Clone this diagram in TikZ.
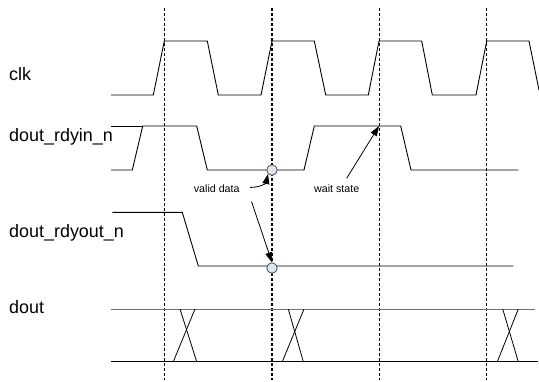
\documentclass[tikz,border=0pt]{standalone}
\usepackage{fontspec}
\setmainfont{Liberation Sans}
\usetikzlibrary{arrows.meta}
\definecolor{dotfill}{HTML}{DFE6F0}
\begin{document}
\begin{tikzpicture}[x=1bp,y=-1bp,
  wave/.style={line width=0.9bp,line join=miter},
  gwave/.style={line width=0.9bp,draw=black!55},
  grid/.style={line width=0.8bp,dash pattern=on 3bp off 2bp},
  siglabel/.style={font=\fontsize{18}{21}\selectfont,anchor=west,inner sep=0pt},
  note/.style={font=\fontsize{10.7}{12}\selectfont,inner sep=0pt},
  dot/.style={circle,draw=black!70,fill=dotfill,line width=0.8bp,minimum size=10.5bp,inner sep=0pt},
  pointer/.style={line width=0.8bp,-{Triangle[length=10bp,width=7bp]}}]
\useasboundingbox (0,0) rectangle (539,381);
% grid lines
\foreach \gx/\gw in {164.3/0.8,272/1.4,379/0.8,486.7/0.8}
  \draw[grid,line width=\gw bp] (\gx,8) -- (\gx,380);
% labels
\node[siglabel] (lclk) at (9,74) {clk};
\node[siglabel] (lin) at (9,137) {dout\_rdyin\_n};
\node[siglabel] (lout) at (9,233) {dout\_rdyout\_n};
\node[siglabel] (ldout) at (9,307) {dout};
% clk
\draw[wave] (111,95) -- (153.3,95) -- (164.3,41) -- (207.3,41) -- (218.3,95)
  -- (261,95) -- (272,41) -- (314.3,41) -- (325.7,95)
  -- (368.3,95) -- (379,41) -- (421.7,41) -- (432.3,95)
  -- (476,95) -- (486.7,41) -- (529,41) -- (539,90);
% dout_rdyin_n
\draw[wave] (111,126) -- (142.7,126);
\draw[wave] (111,170) -- (132.3,170) -- (142.7,126) -- (196.7,126) -- (207.3,170)
  -- (304,170) -- (314.3,126) -- (400.7,126) -- (411,170) -- (518.3,170);
% dout_rdyout_n
\draw[wave] (112.3,212.3) -- (182.3,212.3) -- (198.3,266) -- (513.3,266);
% dout
\draw[gwave] (111,309) -- (535,309);
\draw[wave] (111,361.7) -- (538,361.7);
\foreach \a/\b/\c/\d in {180/196.7/195/173.3, 288.3/303.3/304/282.3, 502.7/518.3/518.3/497.3}{
  \draw[line width=0.8bp] (\a,309) -- (\b,361.7);
  \draw[line width=0.8bp] (\c,309) -- (\d,361.7);
}
% markers
\node[dot] (c1) at (272,170) {};
\node[dot] (c2) at (272,268) {};
% notes
\node[note] (vd) at (216.7,188.7) {valid data};
\node[note] (ws) at (336.7,188.7) {wait state};
\coordinate (ws1) at (379,126);
\coordinate (vd1) at (250,187.5);
\coordinate (vd2) at (251.5,201.5);
\coordinate (ws0) at (346.7,178.3);
\draw[pointer] (vd1) .. controls (262,187) and (266,183) .. (c1.south west);
\draw[pointer] (vd2) -- (c2.north);
\draw[pointer] (ws0) -- (ws1);
\end{tikzpicture}
\end{document}
